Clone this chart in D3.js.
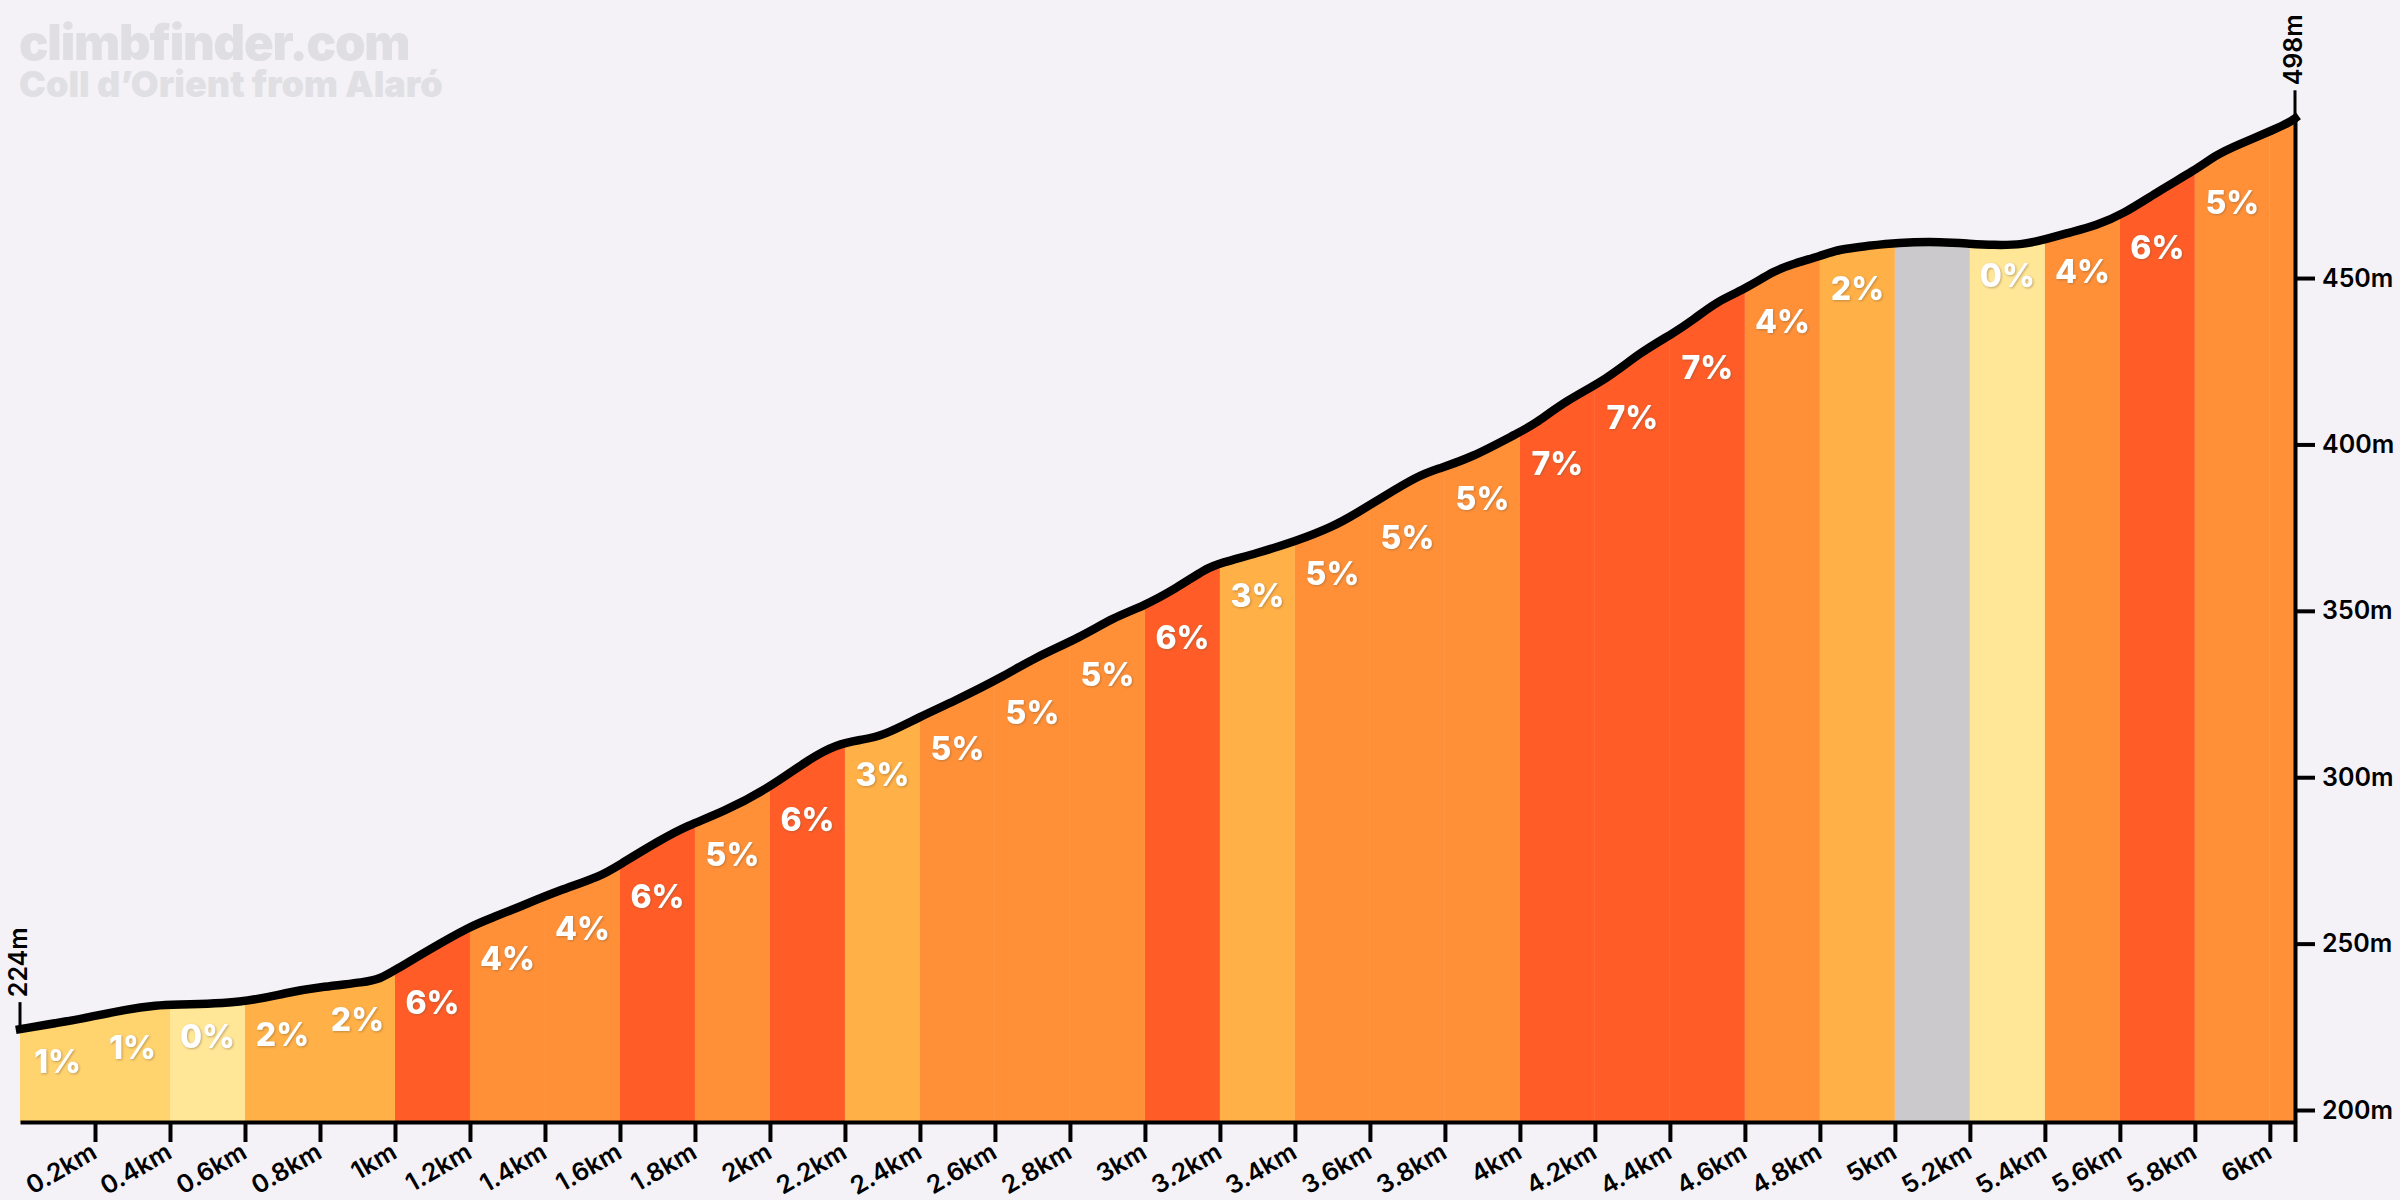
<!DOCTYPE html>
<html>
<head>
<meta charset="utf-8">
<script src="https://cdn.jsdelivr.net/npm/d3@7"></script>
<style>
  html, body { margin: 0; background: #f4f2f6; }
  text { font-family: Inter, "Noto Sans", sans-serif; }
</style>
</head>
<body>
<div id="chart"></div>
<script>
// profile: distance (km) and elevation (m)
const distanceKm = [0, 0.1, 0.16, 0.285, 0.37, 0.4, 0.6, 0.71, 0.81, 0.92, 0.96, 1.0, 1.085, 1.2, 1.262, 1.333,
  1.44, 1.547, 1.6, 1.707, 1.778, 1.876, 2.0, 2.107, 2.178, 2.24, 2.302, 2.4, 2.489, 2.622, 2.702, 2.827, 2.916,
  2.996, 3.084, 3.164, 3.2, 3.298, 3.4, 3.502, 3.564, 3.636, 3.724, 3.778, 3.867, 4.0, 4.036, 4.124, 4.231, 4.32,
  4.409, 4.462, 4.524, 4.596, 4.683, 4.73, 4.8, 4.853, 4.924, 5.004, 5.129, 5.2, 5.262, 5.342, 5.404, 5.467, 5.538,
  5.604, 5.707, 5.8, 5.858, 5.911, 6.018, 6.053, 6.067];
const elevationM = [224.3, 226.2, 227.3, 230.3, 231.5, 231.6, 232.2, 235.3, 237.1, 238.4, 239.4, 242, 247.8, 255.2,
  257.9, 261.1, 266.1, 270.1, 273.8, 281.1, 285.4, 289.6, 296.9, 305.7, 309.9, 311.2, 312.4, 318.2, 322.7, 330.2,
  335.7, 342, 348, 351.4, 356.8, 362.8, 364.3, 367.3, 370.8, 375.3, 379.3, 384.3, 390.3, 392.6, 395.8, 403.8, 405.8,
  413.3, 419.5, 427.6, 433.4, 437.4, 442.9, 446.4, 452.5, 454.3, 456.6, 458.7, 459.6, 460.7, 460.9, 460.3, 459.9,
  460, 461.7, 463.7, 465.9, 468.9, 476.4, 482.4, 487.1, 489.9, 494.9, 496.9, 498];

const bandEndKm = [0.2, 0.4, 0.6, 0.8, 1, 1.2, 1.4, 1.6, 1.8, 2, 2.2, 2.4, 2.6, 2.8, 3, 3.2, 3.4, 3.6, 3.8, 4, 4.2,
  4.4, 4.6, 4.8, 5, 5.2, 5.4, 5.6, 5.8, 6, 6.067];
const bandGradient = [1, 1, 0, 2, 2, 6, 4, 4, 6, 5, 6, 3, 5, 5, 5, 6, 3, 5, 5, 5, 7, 7, 7, 4, 2, -1, 0, 4, 6, 5, 5];
const bandLabel = ["1%", "1%", "0%", "2%", "2%", "6%", "4%", "4%", "6%", "5%", "6%", "3%", "5%", "5%", "5%", "6%",
  "3%", "5%", "5%", "5%", "7%", "7%", "7%", "4%", "2%", "", "0%", "4%", "6%", "5%", ""];

const xTickKm = [0.2, 0.4, 0.6, 0.8, 1, 1.2, 1.4, 1.6, 1.8, 2, 2.2, 2.4, 2.6, 2.8, 3, 3.2, 3.4, 3.6, 3.8, 4, 4.2,
  4.4, 4.6, 4.8, 5, 5.2, 5.4, 5.6, 5.8, 6, 6.067];
const xTickLabels = ["0.2km", "0.4km", "0.6km", "0.8km", "1km", "1.2km", "1.4km", "1.6km", "1.8km", "2km", "2.2km",
  "2.4km", "2.6km", "2.8km", "3km", "3.2km", "3.4km", "3.6km", "3.8km", "4km", "4.2km", "4.4km", "4.6km", "4.8km",
  "5km", "5.2km", "5.4km", "5.6km", "5.8km", "6km", ""];
const yTicks = [200, 250, 300, 350, 400, 450];

const width = 2400, height = 1200;
const bg = "#f4f2f6";

const x = d3.scaleLinear().domain([0, 6.067]).range([20, 2295]);
const y = d3.scaleLinear().domain([196.4, 498]).range([1122, 118.3]);
const elevAt = d3.scaleLinear().domain(distanceKm).range(elevationM);
const color = d3.scaleOrdinal()
  .domain([-1, 0, 1, 2, 3, 4, 5, 6, 7])
  .range(["#cbc9cc", "#ffe797", "#ffd36e", "#ffb046", "#ffb046", "#ff9038", "#ff9038", "#ff5c28", "#ff5c28"]);

const svg = d3.select("#chart").append("svg")
  .attr("width", width)
  .attr("height", height)
  .style("display", "block")
  .style("background", bg);

// watermark
svg.append("text").attr("x", 19).attr("y", 60)
  .style("font-size", "49px").style("font-weight", 900).style("letter-spacing", "-1.2px").style("fill", "#dfdee2")
  .text("climbfinder.com");
svg.append("text").attr("x", 19).attr("y", 97)
  .style("font-size", "36px").style("font-weight", 900).style("fill", "#e0dfe3")
  .text("Coll d’Orient from Alaró");

const profile = d3.range(distanceKm.length);
const area = d3.area().x(i => x(distanceKm[i])).y0(y(196.4)).y1(i => y(elevationM[i])).curve(d3.curveBasis);
const line = d3.line().x(i => x(distanceKm[i])).y(i => y(elevationM[i])).curve(d3.curveBasis);

svg.append("clipPath").attr("id", "under-line").append("path").attr("d", area(profile));

// gradient bands
svg.append("g").attr("clip-path", "url(#under-line)")
  .selectAll("rect")
  .data(bandEndKm)
  .enter()
  .append("rect")
  .attr("x", (d, i) => x(i === 0 ? 0 : bandEndKm[i - 1]))
  .attr("width", (d, i) => x(d) - x(i === 0 ? 0 : bandEndKm[i - 1]))
  .attr("y", y(498))
  .attr("height", y(196.4) - y(498))
  .attr("fill", (d, i) => color(bandGradient[i]));

// axes
const xAxis = d3.axisBottom(x)
  .tickValues(xTickKm)
  .tickFormat((d, i) => xTickLabels[i])
  .tickSizeInner(20)
  .tickSizeOuter(0);
const gx = svg.append("g").attr("transform", `translate(0,${y(196.4)})`).call(xAxis);
gx.select(".domain").attr("stroke", "#000").attr("stroke-width", 4);
gx.selectAll(".tick line").attr("stroke", "#000").attr("stroke-width", 4);
gx.selectAll(".tick text")
  .attr("fill", "#000")
  .style("font-size", "25px").style("font-weight", 600)
  .attr("text-anchor", "end")
  .attr("y", 0)
  .attr("dy", 0)
  .attr("transform", "translate(3,35) rotate(-30)");

const yAxis = d3.axisRight(y)
  .tickValues(yTicks)
  .tickFormat(d => d + "m")
  .tickSizeInner(20)
  .tickSizeOuter(0)
  .tickPadding(7);
const gy = svg.append("g").attr("transform", `translate(${x(6.067)},0)`).call(yAxis);
gy.select(".domain").attr("stroke", "#000").attr("stroke-width", 4);
gy.selectAll(".tick line").attr("stroke", "#000").attr("stroke-width", 4);
gy.selectAll(".tick text").attr("fill", "#000").style("font-size", "25px").style("font-weight", 600);

// start and finish poles with their elevation labels
const poles = [[0, 224, "224m"], [6.067, 498, "498m"]];
svg.selectAll(".pole").data(poles).enter().append("line")
  .attr("class", "pole")
  .attr("x1", d => x(d[0])).attr("x2", d => x(d[0]))
  .attr("y1", d => y(d[1])).attr("y2", d => y(d[1]) - 28)
  .attr("stroke", "#000").attr("stroke-width", 3);
svg.selectAll(".pole-label").data(poles).enter().append("text")
  .attr("class", "pole-label")
  .attr("transform", d => `translate(${x(d[0]) + 7},${y(d[1]) - 33}) rotate(-90)`)
  .style("font-size", "25px").style("font-weight", 600)
  .style("fill", "#000")
  .text(d => d[2]);

// the profile line
svg.append("path")
  .attr("d", line(profile))
  .attr("fill", "none")
  .attr("stroke", "#000")
  .attr("stroke-width", 8.5)
  .attr("stroke-linecap", "square");

// gradient labels sit a fixed distance under the start of each band
svg.append("g").selectAll("text")
  .data(bandEndKm)
  .enter()
  .append("text")
  .attr("x", (d, i) => x(((i === 0 ? 0 : bandEndKm[i - 1]) + d) / 2))
  .attr("y", (d, i) => y(elevAt(i === 0 ? 0 : bandEndKm[i - 1])) + 32)
  .attr("dy", "0.36em")
  .attr("text-anchor", "middle")
  .style("font-size", "32px")
  .style("font-weight", 800)
  .style("fill", "#fff")
  .style("filter", "drop-shadow(1px 1px 1px rgba(120,90,60,0.45))")
  .text((d, i) => bandLabel[i]);
</script>
</body>
</html>
